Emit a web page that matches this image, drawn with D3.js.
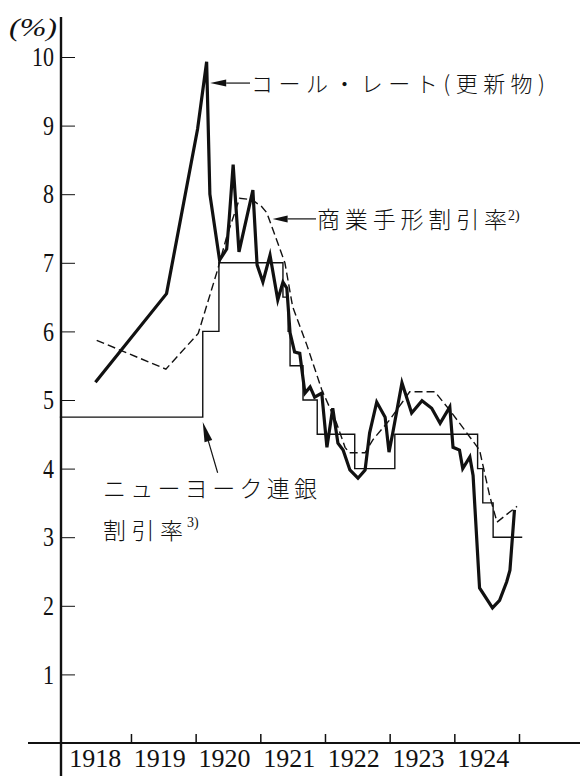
<!DOCTYPE html>
<html>
<head>
<meta charset="utf-8">
<script src="https://cdn.jsdelivr.net/npm/d3@7"></script>
<style>
  html, body { margin: 0; padding: 0; background: #fff; }
  svg { display: block; }
  .serif { font-family: "Liberation Serif", "DejaVu Serif", "Tinos", "Times New Roman", "Noto Serif", serif; }
  .cjk { font-family: "Noto Sans CJK JP", "Noto Sans CJK SC", sans-serif; font-weight: 300; }
</style>
</head>
<body>
<svg id="chart" width="580" height="776"></svg>
<script>
// year boundaries (ticks) and year labels
const yearTicks = [1919, 1920, 1921, 1922, 1923, 1924, 1925];
const yearLabels = [1918, 1919, 1920, 1921, 1922, 1923, 1924];
const rateTicks = [1, 2, 3, 4, 5, 6, 7, 8, 9, 10];

// call rate (renewal), thick line
const callYears = [1918.45, 1919.55, 1920.03, 1920.17, 1920.22, 1920.37, 1920.48, 1920.52, 1920.58, 1920.67,
  1920.885, 1920.95, 1921.04, 1921.15, 1921.27, 1921.35, 1921.41, 1921.46, 1921.53, 1921.61,
  1921.69, 1921.77, 1921.84, 1921.95, 1922.03, 1922.12, 1922.20, 1922.28, 1922.385, 1922.51,
  1922.62, 1922.69, 1922.80, 1922.93, 1922.99, 1923.05, 1923.19, 1923.34, 1923.50, 1923.65,
  1923.78, 1923.93, 1923.98, 1924.08, 1924.13, 1924.24, 1924.29, 1924.39, 1924.59, 1924.70,
  1924.81, 1924.86, 1924.93];
const callRates = [5.26, 6.55, 8.95, 9.93, 8.00, 7.04, 7.20, 7.65, 8.43, 7.16,
  8.06, 6.97, 6.72, 7.11, 6.46, 6.72, 6.63, 5.98, 5.70, 5.68,
  5.10, 5.19, 5.04, 5.10, 4.31, 4.88, 4.37, 4.27, 3.98, 3.86,
  3.98, 4.52, 4.97, 4.75, 4.24, 4.53, 5.25, 4.81, 4.99, 4.88,
  4.66, 4.90, 4.31, 4.27, 4.00, 4.17, 3.90, 2.26, 1.97, 2.08,
  2.35, 2.52, 3.40];

// commercial paper discount rate, dashed line
const paperYears = [1918.47, 1919.54, 1920.04, 1920.34, 1920.48, 1920.68, 1920.87, 1921.02, 1921.10, 1921.38,
  1921.50, 1921.72, 1921.95, 1922.18, 1922.31, 1922.38, 1922.62, 1922.74, 1923.00, 1923.19,
  1923.31, 1923.70, 1923.93, 1924.13, 1924.39, 1924.55, 1924.66, 1924.97];
const paperRates = [5.87, 5.45, 5.97, 6.90, 7.38, 7.94, 7.92, 7.82, 7.73, 7.00,
  6.36, 5.80, 5.15, 4.66, 4.31, 4.23, 4.23, 4.42, 4.71, 4.96,
  5.12, 5.12, 4.85, 4.60, 4.27, 3.59, 3.22, 3.45];

// New York Fed discount rate, step line
const fedYears = [1917.9, 1920.11, 1920.36, 1921.35, 1921.43, 1921.46, 1921.66, 1921.88, 1922.46, 1923.08,
  1924.36, 1924.44, 1924.60, 1925.05];
const fedRates = [4.75, 6, 7, 6.5, 6, 5.5, 5, 4.5, 4, 4.5, 4, 3.5, 3, 3];

const ink = "#111";

const svg = d3.select("#chart");
const x = d3.scaleLinear().domain([1918, 1925]).range([66.3, 519]);
const y = d3.scaleLinear().domain([0, 10]).range([743, 57]);
const axisX = 61;

// axes lines
svg.append("line").attr("x1", axisX).attr("x2", axisX).attr("y1", 17).attr("y2", 776)
  .attr("stroke", ink).attr("stroke-width", 2.4);
svg.append("line").attr("x1", 28).attr("x2", 580).attr("y1", y(0)).attr("y2", y(0))
  .attr("stroke", ink).attr("stroke-width", 2);

// y axis ticks and labels (narrow, tall digits)
svg.append("g").attr("transform", `translate(${axisX},0)`)
  .call(d3.axisLeft(y).tickValues(rateTicks).tickSize(-14).tickPadding(7).tickFormat(d3.format("d")))
  .call(g => g.attr("font-family", null).attr("font-size", null))
  .call(g => g.select(".domain").remove())
  .call(g => g.selectAll("line").attr("stroke", ink).attr("stroke-width", 1))
  .call(g => g.selectAll("text").attr("class", "serif").style("font-size", "27px").attr("fill", ink)
    .attr("textLength", d => String(d).length * 11).attr("lengthAdjust", "spacingAndGlyphs"));

svg.append("text").attr("class", "serif").attr("x", 9).attr("y", 36)
  .style("font-size", "25px").style("font-style", "italic")
  .attr("textLength", 48).attr("lengthAdjust", "spacingAndGlyphs").attr("fill", ink)
  .text("(%)");

// x axis: year boundary ticks above the line, labels centred in each year
svg.append("g").attr("transform", `translate(0,${y(0)})`)
  .call(d3.axisBottom(x).tickValues(yearTicks).tickSize(-9).tickFormat(""))
  .call(g => g.select(".domain").remove())
  .call(g => g.selectAll("line").attr("stroke", ink).attr("stroke-width", 1.5));

svg.append("g").attr("transform", `translate(-4,${y(0)})`)
  .call(d3.axisBottom(x).tickValues(yearLabels.map(d => d + 0.5)).tickSize(0).tickPadding(6)
    .tickFormat(d => Math.floor(d)))
  .call(g => g.attr("font-family", null).attr("font-size", null))
  .call(g => g.select(".domain").remove())
  .call(g => g.selectAll("text").attr("class", "serif").style("font-size", "26px").attr("fill", ink));

// series
const line = d3.line().x(d => x(d[0])).y(d => y(d[1]));
const stepLine = d3.line().x(d => x(d[0])).y(d => y(d[1])).curve(d3.curveStepAfter);

svg.append("path").datum(d3.zip(fedYears, fedRates))
  .attr("d", stepLine)
  .attr("fill", "none").attr("stroke", ink).attr("stroke-width", 1.4);

svg.append("path").datum(d3.zip(paperYears, paperRates))
  .attr("d", line)
  .attr("fill", "none").attr("stroke", ink).attr("stroke-width", 1.4)
  .attr("stroke-dasharray", "8,4");

svg.append("path").datum(d3.zip(callYears, callRates))
  .attr("d", line)
  .attr("fill", "none").attr("stroke", ink).attr("stroke-width", 3.2)
  .attr("stroke-linejoin", "miter").attr("stroke-miterlimit", 6);

// annotation arrows
function arrow (tip, tail, len, half) {
  const [tx, ty] = tip, [sx, sy] = tail;
  const a = Math.atan2(sy - ty, sx - tx);
  const bx = tx + Math.cos(a) * len, by = ty + Math.sin(a) * len;
  const nx = -Math.sin(a) * half, ny = Math.cos(a) * half;
  svg.append("line").attr("x1", bx).attr("y1", by).attr("x2", sx).attr("y2", sy)
    .attr("stroke", ink).attr("stroke-width", 1.2);
  svg.append("path")
    .attr("d", `M${tx},${ty}L${bx + nx},${by + ny}L${bx - nx},${by - ny}Z`)
    .attr("fill", ink);
}

function label (tx, ty, str, size, width) {
  svg.append("text").attr("class", "cjk").attr("x", tx).attr("y", ty)
    .style("font-size", size + "px").attr("fill", ink)
    .attr("textLength", width).attr("lengthAdjust", "spacing")
    .text(str);
}

function sup (tx, ty, str) {
  svg.append("text").attr("class", "serif").attr("x", tx).attr("y", ty)
    .style("font-size", "14px").attr("fill", ink)
    .text(str);
}

// call rate
arrow([x(1920.225), y(9.62)], [250, y(9.62)], 16, 3.5);
label(251, 92, "コール・レート(更新物)", 22, 294);

// commercial paper
arrow([x(1921.19), y(7.64)], [316, y(7.64)], 15, 3.5);
label(317, 228, "商業手形割引率", 23, 190);
sup(508, 220, "2)");

// NY Fed
arrow([x(1920.11), y(4.68)], [x(1920.34), y(3.94)], 20, 4);
label(103, 497, "ニューヨーク連銀", 23, 214);
label(103, 539, "割引率", 23, 80);
sup(187, 527, "3)");
</script>
</body>
</html>
